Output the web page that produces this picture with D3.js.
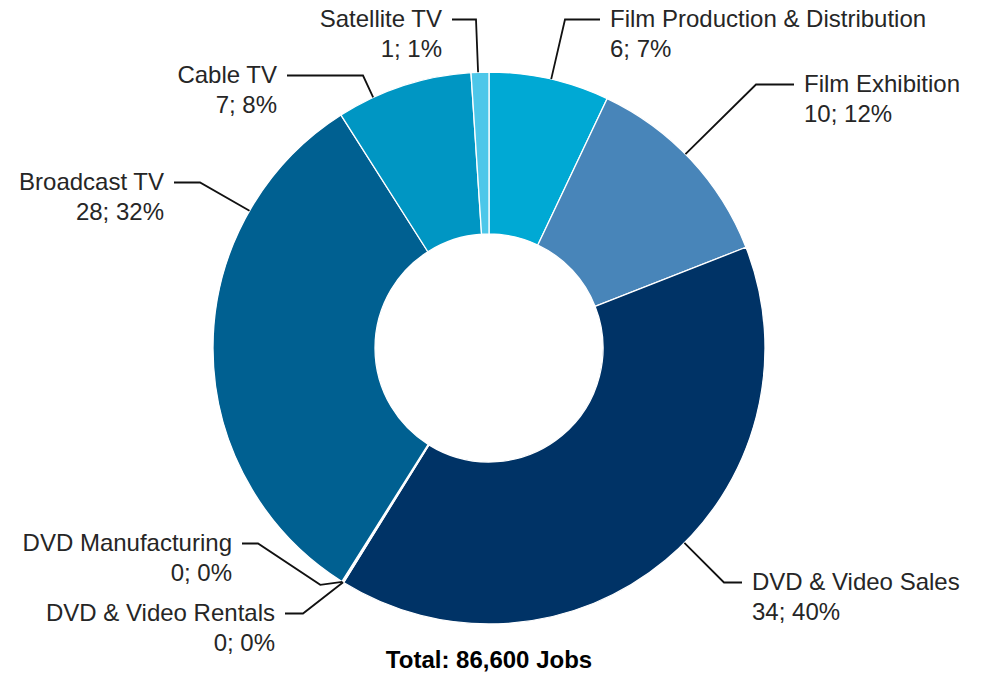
<!DOCTYPE html>
<html>
<head>
<meta charset="utf-8">
<script src="https://cdn.jsdelivr.net/npm/d3@7/dist/d3.min.js"></script>
<style>
  html, body { margin: 0; padding: 0; background: #fff; }
  svg { display: block; }
  text { font-family: "Liberation Sans", Arial, Helvetica, sans-serif; fill: #262626; }
</style>
</head>
<body>
<div id="chart"></div>
<script>
// Jobs by sector, in thousands
const categories = [
  "Film Production & Distribution",
  "Film Exhibition",
  "DVD & Video Sales",
  "DVD & Video Rentals",
  "DVD Manufacturing",
  "Broadcast TV",
  "Cable TV",
  "Satellite TV"
];
const jobs = [6.1, 10.4, 34.45, 0.05, 0.05, 27.75, 6.9, 0.9];
const colors = ["#00a9d4", "#4885b9", "#003366", "#2a6f9e", "#1b5a86", "#006091", "#0096c3", "#4dc7e9"];

// Label placement: text anchor side, text x, first baseline y, elbow x of leader
const labelSide  = ["start", "start", "start", "end", "end", "end", "end", "end"];
const labelX     = [610, 804, 752, 275, 232, 164, 277, 442];
const labelY     = [27, 92, 590, 621, 551, 190, 83, 27];
const leaderElbowX = [565, 756, 724, 303, 258, 200, 363, 476];
// extra kink before the anchor (offset from anchor), only for one leader
const leaderBend = [null, null, null, null, [-22, 3], null, null, null];

const W = 984, H = 674;
const cx = 489, cy = 348, R = 276, r = 114;
const fontSize = 24, lineGap = 30, textGap = 10;

const total = d3.sum(jobs);
const data = categories.map((c, i) => ({
  name: c, value: jobs[i], color: colors[i],
  side: labelSide[i], lx: labelX[i], ly: labelY[i],
  ex: leaderElbowX[i], bend: leaderBend[i]
}));

const svg = d3.select("#chart").append("svg")
  .attr("width", W).attr("height", H);

const pie = d3.pie().sort(null).value(d => d.value);
const arcs = pie(data);
const arc = d3.arc().innerRadius(r).outerRadius(R);

const g = svg.append("g").attr("transform", `translate(${cx},${cy})`);
g.selectAll("path.slice")
  .data(arcs)
  .join("path")
  .attr("class", "slice")
  .attr("d", arc)
  .attr("fill", d => d.data.color)
  .attr("stroke", "#fff")
  .attr("stroke-width", 1.3)
  .attr("stroke-linejoin", "round");

// Leader lines: horizontal stub by the text, then to the closest point of the slice's outer edge
const TAU = 2 * Math.PI;
function anchorFor(a, yLead) {
  const dx = a.data.ex - cx, dy = yLead - cy;
  let ang = Math.atan2(dx, -dy);
  if (ang < 0) ang += TAU;
  const eps = 0.002;
  let lo = a.startAngle + eps, hi = a.endAngle - eps;
  if (hi < lo) { lo = hi = (a.startAngle + a.endAngle) / 2; }
  ang = Math.max(lo, Math.min(hi, ang));
  return [cx + R * Math.sin(ang), cy - R * Math.cos(ang)];
}

const labels = svg.append("g");
arcs.forEach(a => {
  const d = a.data;
  const yLead = d.ly - 7.5;
  const stubStart = d.side === "start" ? d.lx - textGap : d.lx + textGap;
  const anchor = anchorFor(a, yLead);
  const pts = [[stubStart, yLead], [d.ex, yLead]];
  if (d.bend) pts.push([anchor[0] + d.bend[0], anchor[1] + d.bend[1]]);
  pts.push(anchor);
  labels.append("path")
    .attr("d", d3.line()(pts))
    .attr("fill", "none")
    .attr("stroke", "#111")
    .attr("stroke-width", 1.8)
    .attr("stroke-linejoin", "miter");

  const pct = Math.round(d.value / total * 100);
  const t = labels.append("text")
    .attr("text-anchor", d.side)
    .attr("font-size", fontSize);
  t.append("tspan").attr("x", d.lx).attr("y", d.ly).text(d.name);
  t.append("tspan").attr("x", d.lx).attr("y", d.ly + lineGap)
    .text(`${Math.round(d.value)}; ${pct}%`);
});

svg.append("text")
  .attr("x", cx).attr("y", 668)
  .attr("text-anchor", "middle")
  .attr("font-size", 24)
  .attr("font-weight", "bold")
  .style("fill", "#000")
  .text(`Total: ${d3.format(",")(Math.round(total * 1000))} Jobs`);
</script>
</body>
</html>
